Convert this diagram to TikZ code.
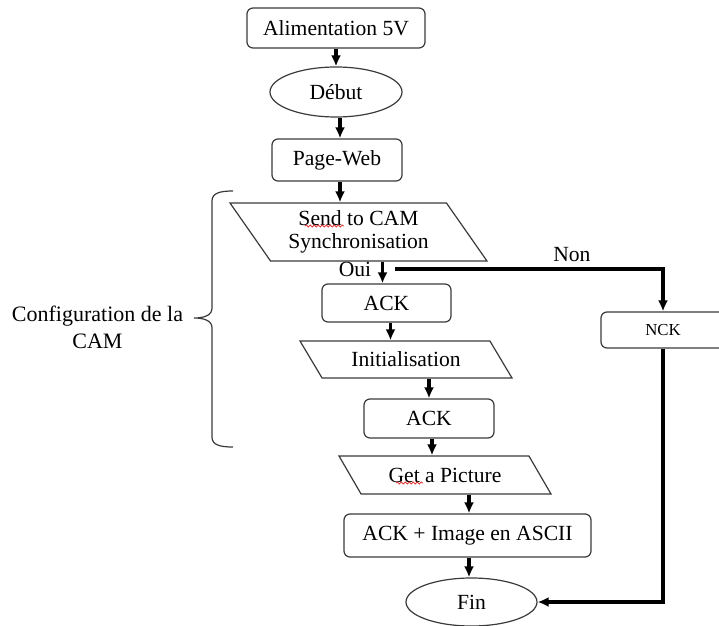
\documentclass[tikz,border=0pt]{standalone}
\usepackage{fontspec}
\setmainfont{Liberation Serif}
\usetikzlibrary{arrows.meta,calc,shapes.geometric,decorations.pathmorphing}
\definecolor{boxline}{HTML}{3A3A3A}
\definecolor{spellred}{HTML}{E03A3A}
\tikzset{
  stepnode/.style={draw=boxline, line width=0.6pt, rounded corners=3pt, align=center, inner sep=2pt, font=\fontsize{10.8}{13}\selectfont},
  termnode/.style={draw=boxline, ellipse, line width=0.6pt, inner sep=1pt, font=\fontsize{10.8}{13}\selectfont},
  ionode/.style={draw=boxline, trapezium, trapezium stretches body, line width=0.6pt, align=center, inner sep=1pt, font=\fontsize{10.8}{13}\selectfont},
  labelnode/.style={inner sep=1pt, font=\fontsize{10.8}{13}\selectfont},
  flow/.style={-{Latex[length=5.5pt,width=5pt]}, line width=1.7pt},
  bracket/.style={draw=boxline, line width=0.6pt},
  spellmark/.style={spellred, line width=0.4pt, decorate, decoration={snake, amplitude=0.5pt, segment length=2pt}}
}

\begin{document}
\begin{tikzpicture}[x=0.5pt, y=-0.5pt]
  \useasboundingbox (0,0) rectangle (719,626);

  % main column
  \node[stepnode, minimum width=89pt, minimum height=20pt] (alim) at (336,28) {Alimentation 5V};
  \node[termnode, minimum width=66pt, minimum height=25pt] (debut) at (336,92) {Début};
  \node[stepnode, minimum width=65pt, minimum height=21pt] (pageweb) at (337,160) {Page-Web};
  \node[ionode, trapezium left angle=131, trapezium right angle=49, minimum width=128.5pt, minimum height=29pt,
        font=\fontsize{10.8}{11.5}\selectfont] (sendcam) at (358.5,232) {Send to CAM\\Synchronisation};
  \node[stepnode, minimum width=64.5pt, minimum height=19pt] (ack1) at (386.5,303) {ACK};
  \node[ionode, trapezium left angle=139, trapezium right angle=41, minimum width=106pt, minimum height=18.5pt] (init) at (406,359.5) {Initialisation};
  \node[stepnode, minimum width=65pt, minimum height=19.5pt] (ack2) at (429,418.5) {ACK};
  \node[ionode, trapezium left angle=140, trapezium right angle=40, minimum width=106pt, minimum height=19pt] (getpic) at (445,475) {Get a Picture};
  \node[stepnode, minimum width=123.5pt, minimum height=21.5pt] (ackimg) at (467.5,535.5) {ACK + Image en ASCII};
  \node[termnode, minimum width=65.5pt, minimum height=24pt] (fin) at (471.5,602) {Fin};

  % error branch
  \node[stepnode, minimum width=62pt, minimum height=18pt, font=\fontsize{8.4}{10}\selectfont] (nck) at (663,330) {NCK};
  \node[labelnode] (oui) at (355,269) {Oui};
  \coordinate (nonsplit) at (395,269);

  % bracket and its label
  \node[align=center, font=\fontsize{11}{13.5}\selectfont] (config) at (97.5,327) {Configuration de la\\CAM};
  \draw[bracket] (233,191) .. controls (220,191) and (212,193) .. (212,201) -- (212,308)
    .. controls (212,315) and (205,318) .. (194,318)
    .. controls (205,318) and (212,321) .. (212,328) -- (212,437)
    .. controls (212,445) and (220,447) .. (233,447);

  % arrows
  \draw[flow] (alim) -- (debut);
  \draw[flow] ($(debut.south)+(4,0)$) -- ($(debut.south |- pageweb.north)+(4,0)$);
  \draw[flow] ($(pageweb.south)+(3,0)$) -- ($(pageweb.south |- sendcam.north)+(3,0)$);
  \draw[flow] ($(ack1.north |- sendcam.south)+(-4,0)$) -- ($(ack1.north)+(-4,0)$);
  \draw[flow] ($(ack1.south)+(4,0)$) -- ($(ack1.south |- init.north)+(4,0)$);
  \draw[flow] (ack2.north |- init.south) -- (ack2.north);
  \draw[flow] ($(ack2.south)+(3,0)$) -- ($(ack2.south |- getpic.north)+(3,0)$);
  \draw[flow] ($(ackimg.north |- getpic.south)+(1.5,0)$) -- ($(ackimg.north)+(1.5,0)$);
  \draw[flow] ($(ackimg.south)+(1.5,0)$) -- ($(ackimg.south |- fin.north)+(1.5,0)$);
  \draw[flow] (nonsplit) -| node[labelnode, pos=0.33, above=2pt] (non) {Non} (nck.north);
  \draw[flow] (nck.south) |- (fin.east);

  % spell-check underlines
  \draw[spellmark] (305,226) -- (344,226);
  \draw[spellmark] (396,483) -- (423,483);
\end{tikzpicture}
\end{document}
